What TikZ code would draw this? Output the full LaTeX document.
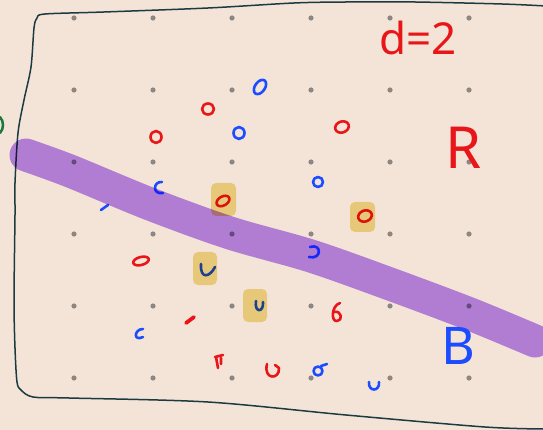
\documentclass[tikz,border=0pt]{standalone}
\usepackage{fontspec}
\setmainfont{Noto Sans}
\definecolor{paper}{RGB}{244,228,216}
\definecolor{penred}{RGB}{232,22,24}
\definecolor{penblue}{RGB}{28,76,255}
\definecolor{penink}{RGB}{28,58,66}
\definecolor{pengreen}{RGB}{30,120,60}
\definecolor{dotgray}{RGB}{140,135,131}
\definecolor{markerpurple}{RGB}{186,140,248}
\definecolor{markeryellow}{RGB}{242,224,144}

\begin{document}
\begin{tikzpicture}[
    x=1pt, y=-1pt,
    redmark/.style={draw=penred, line width=2.6pt, line cap=round, line join=round},
    bluemark/.style={draw=penblue, line width=2.6pt, line cap=round, line join=round},
    gdot/.style={circle, fill=dotgray, inner sep=0pt, minimum size=5.2pt},
    hilite/.style={fill=markeryellow, rounded corners=5pt},
    handtext/.style={inner sep=0pt, font=\fontsize{#1}{#1}\selectfont}
  ]
    \useasboundingbox (0,0) rectangle (543,430);
    \fill[paper] (0,0) rectangle (543,430);

    % grid
    \foreach \i in {0,...,5}
      \foreach \j in {0,...,5}
        \node[gdot] (p-\i-\j) at ({74+79*\i},{18+72*\j}) {};

    % frame
    \draw[penink, line width=1.5pt] plot[smooth, tension=0.5] coordinates {
      (546,6) (502,4) (415,2) (346,2) (294,3) (208,8) (104,12) (45,14) (37,18)
      (34,28) (31,67) (24,100) (18,133) (15,183) (15,215) (14,300) (15,348)
      (17,382) (21,390) (33,397) (69,398) (208,402) (346,415) (485,427) (546,429)};
    \draw[pengreen, line width=2.5pt, line cap=round] (0,117) .. controls (4,121) and (4,129) .. (0,133);

    % red points
    \draw[redmark] (208,109) ellipse [x radius=6, y radius=5.5];
    \draw[redmark] (156,137) ellipse [x radius=5.5, y radius=6];
    \draw[redmark, rotate around={20:(342,127)}] (342,127) ellipse [x radius=7, y radius=5.5];
    \draw[redmark, rotate around={30:(223,201)}] (223,201) ellipse [x radius=7, y radius=4.5];
    \draw[redmark, rotate around={20:(365,216)}] (365,216) ellipse [x radius=7, y radius=5.5];
    \draw[redmark, rotate around={15:(141,261)}] (141,261) ellipse [x radius=8, y radius=4];
    \draw[redmark] (340,303) .. controls (331,306) and (331,322) .. (337,321)
                   .. controls (343,321) and (342,310) .. (334,312);
    \draw[redmark, line width=3.8pt] (186,323) -- (194,317);
    \draw[redmark] (215,357) -- (223,355) (216,357) -- (218,368) (221,358) -- (221,364);
    \draw[redmark] (267,364) .. controls (263,380) and (280,380) .. (279,368) -- (275,365);

    % blue points
    \draw[bluemark, rotate around={-35:(260,87)}] (260,87) ellipse [x radius=5, y radius=8];
    \draw[bluemark] (239,133) ellipse [x radius=5.5, y radius=6];
    \draw[bluemark] (162,182) .. controls (153,181) and (152,195) .. (163,193);
    \draw[bluemark] (101,210) -- (108,205);
    \draw[bluemark] (318,182) ellipse [x radius=5, y radius=5];
    \draw[bluemark] (310,247) .. controls (322,243) and (322,260) .. (309,257);
    \draw[bluemark] (201,264) .. controls (200,280) and (210,277) .. (215,267);
    \draw[bluemark] (256,301) .. controls (254,313) and (264,313) .. (263,302);
    \draw[bluemark] (143,329) .. controls (134,329) and (133,342) .. (143,337);
    \draw[bluemark] (318,371) ellipse [x radius=4.5, y radius=4.5] (321,366) -- (327,364);
    \draw[bluemark] (369,382) .. controls (368,392) and (380,392) .. (379,382);

    % band and boxes
    \begin{scope}[blend mode=multiply]
      \draw[markerpurple, line width=33pt, line cap=round, line join=round]
        plot[smooth, tension=0.5] coordinates {(26,155) (70,171) (150,204) (230,233)
          (311,256) (390,284) (470,314) (535,341)};
      \fill[hilite] (211,183) rectangle (236,216);
      \fill[hilite] (350,202) rectangle (375,232);
      \fill[hilite] (193,252) rectangle (217,285);
      \fill[hilite] (243,289) rectangle (267,322);
    \end{scope}

    % labels
    \node[handtext=44, text=penred] (dlabel) at (418,38) {d=2};
    \node[handtext=58, text=penred] (rlabel) at (464,148) {R};
    \node[handtext=52, text=penblue] (blabel) at (458,346) {B};
  \end{tikzpicture}
\end{document}
